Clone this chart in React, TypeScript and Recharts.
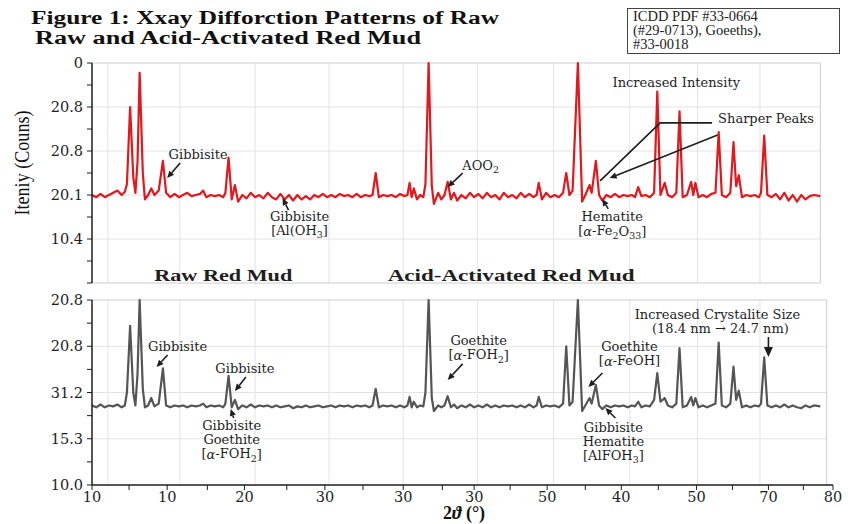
import React from 'react';
import { LineChart, Line, XAxis, YAxis, ReferenceLine, ReferenceDot } from 'recharts';

// 2θ positions of the sampled points
const twoTheta = [
  10.0, 10.4, 10.8, 11.2, 11.6, 12.0, 12.4, 12.8, 13.1, 13.3,
  13.6, 13.9, 14.1, 14.3, 14.5, 14.8, 15.0, 15.3, 15.6, 15.9,
  16.3, 16.7, 17.0, 17.4, 17.8, 18.2, 18.6, 19.0, 19.4, 19.8,
  20.2, 20.5, 20.8, 21.2, 21.6, 22.0, 22.4, 22.6, 22.9, 23.2,
  23.5, 23.8, 24.2, 24.6, 25.0, 25.4, 25.8, 26.2, 26.6, 27.0,
  27.4, 27.8, 28.2, 28.6, 29.0, 29.4, 29.8, 30.2, 30.6, 31.0,
  31.4, 31.8, 32.2, 32.6, 33.0, 33.4, 33.8, 34.2, 34.6, 35.0,
  35.4, 35.8, 36.2, 36.5, 36.8, 37.1, 37.5, 37.9, 38.3, 38.7,
  39.1, 39.5, 39.8, 40.0, 40.2, 40.4, 40.7, 41.0, 41.3, 41.5,
  41.8, 42.1, 42.3, 42.7, 43.0, 43.3, 43.6, 43.9, 44.2, 44.5,
  44.9, 45.3, 45.7, 46.1, 46.5, 46.9, 47.3, 47.7, 48.1, 48.5,
  48.9, 49.3, 49.7, 50.1, 50.5, 50.9, 51.3, 51.7, 52.0, 52.2,
  52.5, 52.9, 53.3, 53.7, 54.1, 54.5, 54.8, 55.1, 55.4, 55.9,
  56.3, 56.6, 57.0, 57.2, 57.6, 57.9, 58.2, 58.6, 59.0, 59.4,
  59.8, 60.2, 60.6, 61.0, 61.3, 61.6, 61.9, 62.3, 62.7, 63.1,
  63.4, 63.7, 64.1, 64.4, 64.8, 65.2, 65.5, 65.8, 66.2, 66.6,
  66.8, 67.0, 67.3, 67.7, 68.1, 68.5, 68.9, 69.2, 69.5, 69.9,
  70.3, 70.6, 70.85, 71.1, 71.4, 71.8, 72.2, 72.6, 73.0, 73.2,
  73.5, 73.8, 74.2, 74.6, 75.0, 75.4, 75.8, 76.2, 76.6, 77.0,
  77.4, 77.8, 78.2, 78.8,
];

// top panel (red)
const activatedCounts = [
  40, 39, 40.5, 39, 40, 41, 42, 40, 41.5, 45,
  80, 48, 41, 55, 95.5, 50, 38, 40, 43, 40,
  42, 55.5, 41, 39, 40.5, 39, 40, 41, 39.5, 40,
  40.5, 42, 39, 40, 39.5, 40, 39, 41, 57, 38,
  44.5, 37, 40, 38.5, 41, 39, 40, 38.5, 41, 39,
  38, 40.5, 38, 40, 37.5, 40, 38, 39.5, 38, 40,
  39, 40.5, 39, 40, 39, 40.5, 39.5, 40, 39, 40.5,
  39, 40, 39.5, 40, 50, 39, 40, 39.5, 40, 39,
  40.5, 39.5, 40, 45.5, 39, 43, 38, 40, 39, 45,
  100, 44, 36, 41, 38, 40, 46, 38, 41, 37.5,
  40, 38.5, 41, 39, 40.5, 38.5, 41, 39, 40, 38,
  41, 39, 40, 38.5, 41, 39, 40.5, 39, 40, 45.5,
  38, 41, 39, 40, 39, 41, 50, 40, 42, 100,
  37, 40, 44.5, 41, 55.5, 40, 37.5, 40, 39, 40.5,
  39, 40, 39.5, 40, 39, 43.6, 39.5, 40, 39, 41,
  87, 40, 45.5, 40, 39, 41, 78, 39, 40, 46,
  40, 45.5, 39, 40, 39, 40.5, 41, 68.6, 40, 39,
  41, 64, 44, 49, 39, 40, 39.5, 40, 39, 41,
  67, 40, 39, 40.5, 38, 41, 37.5, 40, 37, 40,
  38, 39.5, 40, 39.5,
];

// bottom panel (grey)
const rawCounts = [
  43, 42, 43.5, 42, 43, 42.5, 43.5, 42, 43, 50,
  86, 50, 43, 60, 100, 52, 42, 43, 47, 42.5,
  44, 63, 43, 42, 43, 42.5, 43, 42, 43, 42.5,
  43, 44, 42, 43, 42.5, 43, 42, 44, 59, 42,
  46, 41, 43, 42, 43.5, 42, 43, 42.5, 43, 42,
  43, 42, 42.5, 43, 41.5, 42.5, 42, 43, 42, 42.5,
  43, 42, 42.5, 43, 42, 43, 42.5, 43, 42, 43,
  42.5, 43, 42, 43, 52, 42, 43, 42.5, 43, 42,
  43, 42, 43, 47.6, 42, 45, 42, 43, 42.5, 50,
  100, 47, 40, 43, 42, 43, 48, 42, 43.5, 41.5,
  43, 42, 43.5, 42, 43, 42, 43.5, 42, 43, 42,
  43, 42.5, 43, 42, 43, 42, 43.5, 42, 43, 47.6,
  42, 43, 42.5, 43, 42, 44, 75, 43, 45, 100,
  40, 43, 47, 44, 54, 43, 41, 43, 42, 43,
  42.5, 43, 42, 43, 42.5, 45, 42, 43, 42.5, 46,
  60.5, 45, 47, 43, 42, 44, 74, 42, 43, 47.6,
  43, 47, 42, 43, 42, 43, 44, 77, 43, 42,
  44, 64, 46, 51, 42, 43, 42, 43, 42.5, 44,
  69, 43, 42, 43, 42, 43.5, 42, 43, 42, 41.5,
  43, 42, 43, 42.5,
];

const xMajorTicks = [10, 17.1, 24.4, 32.0, 39.4, 46.1, 53.0, 60.0, 67.1, 73.9, 80];
const xTickLabels = ['10', '10', '20', '30', '30', '30', '50', '40', '50', '70', '80'];
const xMinorTicks = [13.5, 20.9, 28.4, 35.6, 43.1, 49.5, 56.6, 63.5, 70.5, 77.2];
const xGridLines = [11.5, 18.3, 25.4, 32.4, 39.4, 46.4, 53.6, 60.8, 67.2, 73.1];

const topYMajor = [0, 20, 40, 60, 80, 100];
const topYLabels = ['', '10.4', '20.1', '20.8', '20.8', '0'];
const topYMinor = [10, 30, 50, 70, 90];
const bottomYMajor = [0, 25, 50, 75, 100];
const bottomYLabels = ['10.0', '15.3', '31.2', '20.8', '20.8'];
const bottomYMinor = [12.5, 37.5, 62.5, 87.5];

const chartData = twoTheta.map((x, i) => ({ x, activated: activatedCounts[i], raw: rawCounts[i] }));

const SERIF = "'DejaVu Serif', serif";
const TIMES = "'Liberation Serif', 'DejaVu Serif', serif";
const INK = '#1e1e1e';

const allTicks = (a: number[], b: number[]) => [...a, ...b].sort((p, q) => p - q);
const labelFor = (major: number[], labels: string[]) => (v: number) => {
  const i = major.indexOf(v);
  return i >= 0 ? labels[i] : '';
};

type NoteLabel = {
  dx: number;
  dy: number;
  text: React.ReactNode;
  anchor?: 'start' | 'middle' | 'end';
  bold?: boolean;
  size?: number;
  width?: number;
};
type Note = {
  x: number;
  y: number;
  tail?: number[];
  path?: number[][];
  head?: number;
  labels?: NoteLabel[];
};

const sub = (s: string) => (
  <tspan dy={4} fontSize={9.5}>
    {s}
  </tspan>
);
const up = (s: string) => <tspan dy={-4}>{s}</tspan>;
const alpha = <tspan fontStyle="italic">α</tspan>;

const topNotes: Note[] = [
  { x: 17.1, y: 47.7, tail: [13, -15], labels: [{ dx: 31, dy: -24, text: 'Gibbisite' }] },
  {
    x: 28.0, y: 38.6, tail: [6, 12],
    labels: [
      { dx: 17, dy: 18, text: 'Gibbisite' },
      { dx: 17, dy: 32, text: <>[Al(OH{sub('3')}{up(']')}</> },
    ],
  },
  { x: 43.6, y: 43.6, tail: [15, -14], labels: [{ dx: 33, dy: -22, text: <>AOO{sub('2')}</> }] },
  {
    x: 58.2, y: 38.2, tail: [6, 10],
    labels: [
      { dx: 10, dy: 18, text: 'Hematite' },
      { dx: 10, dy: 32, text: <>[{alpha}-Fe{sub('2')}{up('O')}{sub('33')}{up(']')}</> },
    ],
  },
  {
    x: 58.0, y: 46.4, path: [[112, -58], [60, -58], [0, 0]],
    labels: [{ dx: 118, dy: -62, anchor: 'start', text: 'Sharper Peaks' }],
  },
  { x: 58.9, y: 47.7, tail: [108, -43] },
  { x: 63.4, y: 87, labels: [{ dx: 19, dy: -9, text: 'Increased Intensity' }] },
  { x: 22.4, y: 3.6, labels: [{ dx: 0, dy: 0, text: 'Raw Red Mud', bold: true, size: 17, width: 138 }] },
  { x: 49.6, y: 3.6, labels: [{ dx: 0, dy: 0, text: 'Acid-Activated Red Mud', bold: true, size: 17, width: 247 }] },
];

const bottomNotes: Note[] = [
  { x: 16.1, y: 63.8, tail: [11, -12], labels: [{ dx: 21, dy: -20, text: 'Gibbisite' }] },
  { x: 23.5, y: 50.8, tail: [11, -14], labels: [{ dx: 10, dy: -23, text: 'Gibbisite' }] },
  {
    x: 23.1, y: 41.1, tail: [3, 9],
    labels: [
      { dx: 1, dy: 17, text: 'Gibbisite' },
      { dx: 1, dy: 31, text: 'Goethite' },
      { dx: 1, dy: 45, text: <>[{alpha}-FOH{sub('2')}{up(']')}</> },
    ],
  },
  {
    x: 43.6, y: 56.8, tail: [15, -16],
    labels: [
      { dx: 31, dy: -39, text: 'Goethite' },
      { dx: 31, dy: -25, text: <>[{alpha}-FOH{sub('2')}{up(']')}</> },
    ],
  },
  {
    x: 56.9, y: 53.0, tail: [14, -14],
    labels: [
      { dx: 41, dy: -40, text: 'Goethite' },
      { dx: 41, dy: -26, text: <>[{alpha}-FeOH]</> },
    ],
  },
  {
    x: 58.5, y: 41.6, tail: [10, 10],
    labels: [
      { dx: 8, dy: 19, text: 'Gibbisite' },
      { dx: 8, dy: 33, text: 'Hematite' },
      { dx: 8, dy: 47, text: <>[AlFOH{sub('3')}{up(']')}</> },
    ],
  },
  {
    x: 73.9, y: 69.2, tail: [0, -20], head: 10,
    labels: [
      { dx: -51, dy: -42, text: 'Increased Crystalite Size' },
      { dx: -48, dy: -28, text: '(18.4 nm → 24.7 nm)' },
    ],
  },
];

function arrowHead(x1: number, y1: number, x2: number, y2: number, size: number) {
  const len = Math.hypot(x2 - x1, y2 - y1) || 1;
  const ux = (x2 - x1) / len;
  const uy = (y2 - y1) / len;
  const bx = x2 - ux * size;
  const by = y2 - uy * size;
  const nx = -uy * size * 0.45;
  const ny = ux * size * 0.45;
  return { base: [bx, by], points: `${x2},${y2} ${bx + nx},${by + ny} ${bx - nx},${by - ny}` };
}

const drawNote = (note: Note) => (props: any) => {
  const { cx, cy } = props;
  const parts: React.ReactNode[] = [];
  if (note.tail) {
    const tx = cx + note.tail[0];
    const ty = cy + note.tail[1];
    const h = arrowHead(tx, ty, cx, cy, note.head ?? 7);
    parts.push(<line key="l" x1={tx} y1={ty} x2={h.base[0]} y2={h.base[1]} stroke={INK} strokeWidth={1.6} />);
    parts.push(<polygon key="h" points={h.points} fill={INK} />);
  }
  if (note.path) {
    parts.push(
      <polyline
        key="p"
        points={note.path.map(([dx, dy]) => `${cx + dx},${cy + dy}`).join(' ')}
        fill="none"
        stroke={INK}
        strokeWidth={1.6}
      />
    );
  }
  (note.labels ?? []).forEach((l, i) => {
    parts.push(
      <text
        key={`t${i}`}
        x={cx + l.dx}
        y={cy + l.dy}
        textAnchor={l.anchor ?? 'middle'}
        dominantBaseline="central"
        fontFamily={l.bold ? TIMES : SERIF}
        fontWeight={l.bold ? 700 : 400}
        fontSize={l.size ?? 13}
        fill={INK}
        textLength={l.width}
        lengthAdjust={l.width ? 'spacingAndGlyphs' : undefined}
      >
        {l.text}
      </text>
    );
  });
  return <g>{parts}</g>;
};

const axisStyle = { stroke: INK, strokeWidth: 1.5 };
const tickStyle = { fill: INK, fontSize: 14.5, fontFamily: SERIF };
const GRID = '#e3e3e3';
const FRAME = '#cdcdcd';

export default function App() {
  return (
    <div style={{ position: 'absolute', left: 0, top: 0, width: 852, height: 524, background: '#fff', fontFamily: TIMES }}>
      <div style={{ position: 'absolute', left: 0, top: 0 }}>
        <LineChart width={852} height={290} data={chartData} margin={{ top: 63, right: 19, bottom: 7, left: 32 }}>
          <XAxis type="number" dataKey="x" domain={[10, 80]} hide />
          <YAxis
            type="number"
            domain={[0, 100]}
            ticks={allTicks(topYMajor, topYMinor)}
            interval={0}
            tickFormatter={labelFor(topYMajor, topYLabels)}
            width={60}
            axisLine={axisStyle}
            tickLine={{ stroke: INK }}
            tickSize={5}
            tickMargin={4}
            tick={tickStyle}
          />
          {xGridLines.map((g) => (
            <ReferenceLine key={`v${g}`} x={g} stroke={GRID} strokeWidth={1} />
          ))}
          {[20, 40, 60, 80].map((v) => (
            <ReferenceLine key={`h${v}`} segment={[{ x: 10, y: v }, { x: 78.8, y: v }]} stroke={GRID} strokeWidth={1} />
          ))}
          <ReferenceLine segment={[{ x: 10, y: 100 }, { x: 78.8, y: 100 }]} stroke={FRAME} />
          <ReferenceLine segment={[{ x: 10, y: 0 }, { x: 78.8, y: 0 }]} stroke={FRAME} />
          <ReferenceLine segment={[{ x: 78.8, y: 0 }, { x: 78.8, y: 100 }]} stroke={FRAME} />
          <Line
            type="linear"
            dataKey="activated"
            stroke="#e5161c"
            strokeWidth={2.2}
            strokeLinejoin="round"
            dot={false}
            isAnimationActive={false}
          />
          {topNotes.map((n, i) => (
            <ReferenceDot key={`tn${i}`} x={n.x} y={n.y} r={0} ifOverflow="visible" shape={drawNote(n)} />
          ))}
        </LineChart>
      </div>

      <div style={{ position: 'absolute', left: 0, top: 290 }}>
        <LineChart width={852} height={234} data={chartData} margin={{ top: 10, right: 19, bottom: 9, left: 32 }}>
          <XAxis
            type="number"
            dataKey="x"
            domain={[10, 80]}
            ticks={allTicks(xMajorTicks, xMinorTicks)}
            interval={0}
            tickFormatter={labelFor(xMajorTicks, xTickLabels)}
            height={30}
            axisLine={axisStyle}
            tickLine={{ stroke: INK }}
            tickSize={5}
            tickMargin={2}
            tick={tickStyle}
          />
          <YAxis
            type="number"
            domain={[0, 100]}
            ticks={allTicks(bottomYMajor, bottomYMinor)}
            interval={0}
            tickFormatter={labelFor(bottomYMajor, bottomYLabels)}
            width={60}
            axisLine={axisStyle}
            tickLine={{ stroke: INK }}
            tickSize={5}
            tickMargin={4}
            tick={tickStyle}
          />
          {xGridLines.map((g) => (
            <ReferenceLine key={`v${g}`} x={g} stroke={GRID} strokeWidth={1} />
          ))}
          {[25, 50, 75].map((v) => (
            <ReferenceLine key={`h${v}`} segment={[{ x: 10, y: v }, { x: 79.4, y: v }]} stroke={GRID} strokeWidth={1} />
          ))}
          <ReferenceLine segment={[{ x: 10, y: 100 }, { x: 79.4, y: 100 }]} stroke={FRAME} />
          <ReferenceLine segment={[{ x: 79.4, y: 0 }, { x: 79.4, y: 100 }]} stroke={FRAME} />
          <Line
            type="linear"
            dataKey="raw"
            stroke="#555555"
            strokeWidth={2.2}
            strokeLinejoin="round"
            dot={false}
            isAnimationActive={false}
          />
          {bottomNotes.map((n, i) => (
            <ReferenceDot key={`bn${i}`} x={n.x} y={n.y} r={0} ifOverflow="visible" shape={drawNote(n)} />
          ))}
        </LineChart>
      </div>

      <svg width={852} height={524} style={{ position: 'absolute', left: 0, top: 0, pointerEvents: 'none' }}>
        <text x={31} y={24} fontFamily={TIMES} fontWeight={700} fontSize={18.5} fill="#111" textLength={468} lengthAdjust="spacingAndGlyphs">
          Figure 1: Xxay Difforction Patterns of Raw
        </text>
        <text x={35} y={44} fontFamily={TIMES} fontWeight={700} fontSize={18.5} fill="#111" textLength={386} lengthAdjust="spacingAndGlyphs">
          Raw and Acid-Activated Red Mud
        </text>
        <rect x={627.5} y={8.5} width={212} height={45} fill="#fff" stroke="#444" strokeWidth={1} />
        <g fontFamily={TIMES} fontSize={14.5} fill="#222">
          <text x={633} y={21}>ICDD PDF #33-0664</text>
          <text x={633} y={35}>(#29-0713), Goeeths),</text>
          <text x={633} y={49}>#33-0018</text>
        </g>
        <text
          transform="translate(21,163) rotate(-90)"
          textAnchor="middle"
          dominantBaseline="central"
          fontFamily={TIMES}
          fontSize={22}
          fill="#111"
          textLength={105}
          lengthAdjust="spacingAndGlyphs"
        >
          Iteniy (Couns)
        </text>
        <text x={464} y={513} textAnchor="middle" dominantBaseline="central" fontFamily={TIMES} fontWeight={700} fontSize={18} fill="#111">
          2<tspan fontStyle="italic">ϑ</tspan> (°)
        </text>
      </svg>
    </div>
  );
}
